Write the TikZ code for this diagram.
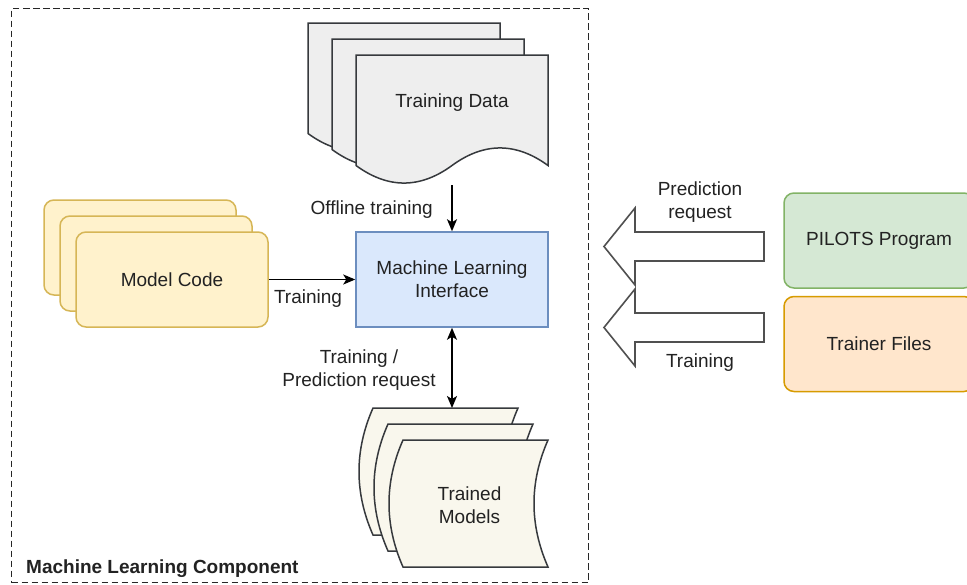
\documentclass[tikz,border=0pt]{standalone}
\usepackage{fontspec}
\setmainfont{Liberation Sans}
\usetikzlibrary{arrows.meta}
\definecolor{txt}{HTML}{222222}
\definecolor{strk}{HTML}{36393D}
\definecolor{docfill}{HTML}{EEEEEE}
\definecolor{stofill}{HTML}{F9F7ED}
\definecolor{mlifill}{HTML}{DAE8FC}
\definecolor{mlistroke}{HTML}{6C8EBF}
\definecolor{mcfill}{HTML}{FFF2CC}
\definecolor{mcstroke}{HTML}{D6B656}
\definecolor{pfill}{HTML}{D5E8D4}
\definecolor{pstroke}{HTML}{82B366}
\definecolor{tfill}{HTML}{FFE6CC}
\definecolor{tstroke}{HTML}{D79B00}
\definecolor{bigarr}{HTML}{505050}
\tikzset{
  lbl/.style={font=\fontsize{19}{23}\selectfont, text=txt, align=center, inner sep=0pt},
  tlbl/.style={lbl, yshift=-2pt},
  boldlbl/.style={font=\fontsize{19}{23}\selectfont\bfseries, text=txt, inner sep=0pt},
  frame/.style={draw=black!85, line width=1pt, dash pattern=on 6.5pt off 3.5pt, inner sep=0pt},
  holder/.style={inner sep=0pt, outer sep=0pt},
  docbox/.style={holder, minimum width=192pt, minimum height=130pt},
  stobox/.style={holder, minimum width=159pt, minimum height=127pt},
  rbox/.style={lbl, draw, line width=1.5pt, rounded corners=10pt, minimum width=192pt, minimum height=95pt},
  mcbox/.style={rbox, fill=mcfill, draw=mcstroke},
  mlibox/.style={lbl, draw=mlistroke, fill=mlifill, line width=1.5pt, minimum width=192pt, minimum height=95pt},
  arr/.style={draw=black, line width=1.5pt, -{Stealth[length=12pt,width=10pt,inset=3pt]}},
  dblarr/.style={draw=black, line width=1.5pt, {Stealth[length=12pt,width=10pt,inset=3pt]}-{Stealth[length=12pt,width=10pt,inset=3pt]}},
  bigarrow/.style={draw=bigarr, fill=white, line width=1.6pt, line join=miter},
  docpic/.pic={\draw[draw=strk, fill=docfill, line width=1.5pt]
     (0,0) -- (192,0) -- (192,110.5)
     .. controls (160,87.1) and (128,87.1) .. (96,110.5)
     .. controls (64,133.9) and (32,133.9) .. (0,110.5) -- cycle;},
  stopic/.pic={\draw[draw=strk, fill=stofill, line width=1.5pt]
     (14,0) -- (159,0)
     .. controls (140.33,42.33) and (140.33,84.67) .. (159,127)
     -- (14,127)
     .. controls (-4.67,84.67) and (-4.67,42.33) .. (14,0) -- cycle;}
}
\begin{document}
\begin{tikzpicture}[x=1pt,y=-1pt]
\useasboundingbox (0,0) rectangle (967,584);
\fill[white] (0,0) rectangle (967,584);

% container
\node[frame, anchor=north west, minimum width=577pt, minimum height=574pt] (mlc) at (11,8) {};
\node[boldlbl, anchor=west] (mlclbl) at (26,569) {Machine Learning Component};

% Training data stack
\foreach \i/\x/\y in {1/308/23, 2/332/39, 3/356/55} {
  \node[docbox, anchor=north west] (td\i) at (\x,\y) {};
  \pic at (td\i.north west) {docpic};
}
\node[tlbl] (tdtxt) at (452,101) {Training Data};

% Model code stack
\node[mcbox] (mc1) at (140,247.5) {};
\node[mcbox] (mc2) at (156,263.5) {};
\node[mcbox] (mc3) at (172,279.5) {Model Code};

% Machine Learning Interface
\node[mlibox] (mli) at (452,279.5) {Machine Learning\\Interface};

% Trained models stack
\foreach \i/\x/\y in {1/359/408, 2/374/424, 3/389/440} {
  \node[stobox, anchor=north west] (tm\i) at (\x,\y) {};
  \pic at (tm\i.north west) {stopic};
}
\node[lbl] (tmtxt) at (469.5,505) {Trained\\Models};

% right-hand boxes
\node[rbox, fill=pfill, draw=pstroke, minimum width=190pt] (pilots) at (879,240.5) {PILOTS Program};
\node[rbox, fill=tfill, draw=tstroke, minimum width=190pt] (trainer) at (879,344) {Trainer Files};

% connectors
\draw[arr] (td3.south) -- (mli.north);
\node[tlbl, anchor=east] (offl) at (433,208) {Offline training};

\draw[arr] (mc3.east) -- (mli.west);
\node[tlbl] (trl) at (308,297) {Training};

\draw[dblarr] (mli.south) -- (mli.south |- tm1.north);
\node[tlbl] (tpl) at (359,368.5) {Training /\\Prediction request};

% big arrows
\draw[bigarrow] (764,232) -- (635,232) -- (635,208) -- (604,246.5) -- (635,285) -- (635,261) -- (764,261) -- cycle;
\draw[bigarrow] (764,313) -- (635,313) -- (635,289) -- (604,327.5) -- (635,366) -- (635,342) -- (764,342) -- cycle;
\node[tlbl] (predl) at (700,200.5) {Prediction\\request};
\node[tlbl] (trl2) at (700,361) {Training};
\end{tikzpicture}
\end{document}
